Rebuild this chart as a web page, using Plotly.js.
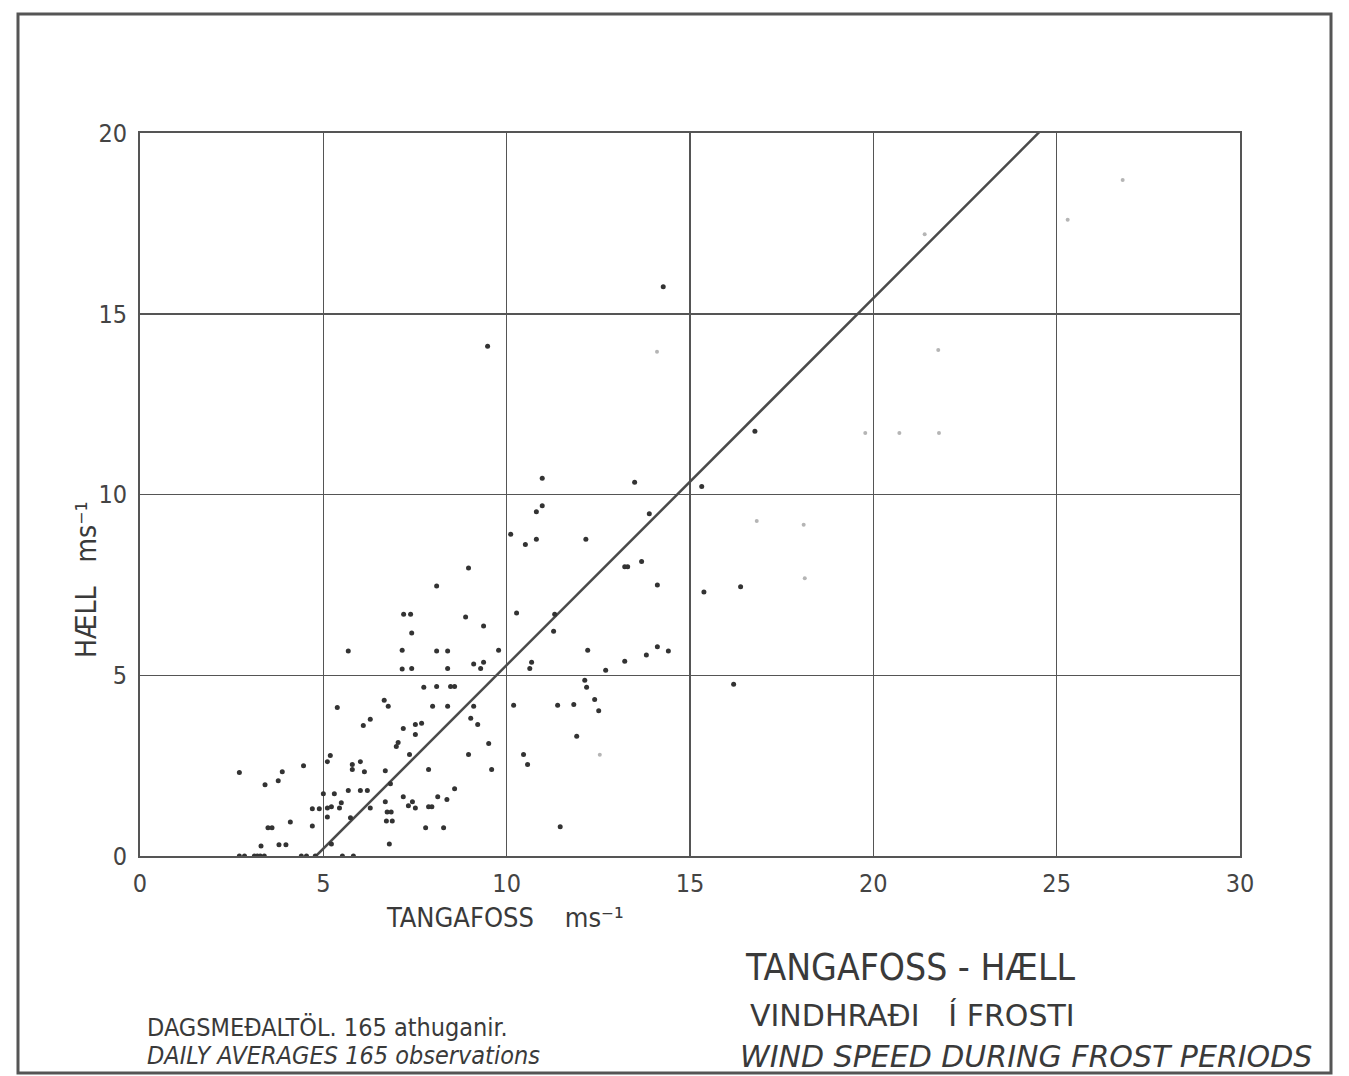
<!DOCTYPE html>
<html>
<head>
<meta charset="utf-8">
<script src="https://cdn.plot.ly/plotly-3.0.1.min.js"></script>
<style>html,body{margin:0;padding:0;background:#fff;}#chart{width:1349px;height:1076px;}</style>
</head>
<body>
<div id="chart"></div>
<script>
// Tangafoss (x) vs Hæll (y) daily average wind speed, m/s
const darkX = [
 5.68,7.15,7.15,5.38,6.66,6.77,6.28,6.09,7.18,7.51,7.51,7.04,6.99,5.19,5.11,5.79,5.79,6.01,6.12,6.69,
 4.46,2.71,3.88,3.77,3.41,5.30,5.68,6.01,6.20,6.83,5.00,5.49,5.44,4.70,4.89,5.11,5.22,5.11,6.28,6.69,
 6.74,6.85,6.72,6.88,7.18,7.32,7.43,5.74,4.70,4.10,3.49,3.60,3.30,3.79,3.98,5.22,6.80,
 2.71,2.85,3.12,3.20,3.28,3.39,4.40,4.54,4.78,5.52,5.82,
 8.96,8.09,7.19,7.38,8.88,7.41,9.37,10.27,11.31,11.28,12.21,8.09,8.39,9.78,7.41,8.39,9.10,9.29,9.37,10.63,
 10.68,12.13,12.18,12.40,7.74,8.09,8.47,8.58,7.98,8.39,9.10,10.19,11.39,11.83,7.68,9.02,9.21,9.51,11.91,7.35,
 8.96,10.46,10.57,7.87,9.59,8.58,7.51,7.87,7.96,8.12,8.37,7.79,8.28,11.46,
 10.97,13.49,15.32,10.81,10.97,13.89,10.11,10.51,10.81,12.16,13.22,13.30,13.68,14.11,15.38,
 12.70,13.22,13.81,14.11,14.41,12.51,
 14.27,9.48,16.77,16.38,16.19
];
const darkY = [
 5.67,5.69,5.17,4.11,4.31,4.14,3.78,3.61,3.53,3.64,3.36,3.14,3.03,2.78,2.61,2.53,2.39,2.61,2.33,2.36,
 2.50,2.31,2.33,2.08,1.97,1.72,1.81,1.81,1.81,2.00,1.72,1.47,1.33,1.31,1.31,1.33,1.36,1.08,1.33,1.50,
 1.22,1.22,0.97,0.97,1.64,1.39,1.50,1.06,0.83,0.94,0.78,0.78,0.28,0.31,0.31,0.33,0.33,
 0,0,0,0,0,0,0,0,0,0,0,
 7.97,7.47,6.69,6.69,6.61,6.17,6.36,6.72,6.69,6.22,5.69,5.67,5.67,5.69,5.19,5.19,5.31,5.19,5.36,5.19,
 5.36,4.86,4.67,4.33,4.67,4.69,4.69,4.69,4.14,4.14,4.14,4.17,4.17,4.19,3.67,3.81,3.64,3.11,3.31,2.81,
 2.81,2.81,2.53,2.39,2.39,1.86,1.33,1.36,1.36,1.64,1.56,0.78,0.78,0.81,
 10.45,10.34,10.22,9.52,9.69,9.47,8.90,8.62,8.76,8.76,8.00,8.00,8.15,7.50,7.30,
 5.14,5.39,5.56,5.79,5.67,4.02,
 15.75,14.10,11.75,7.45,4.75
];
const faintX = [14.10,21.77,19.78,20.71,21.79,16.82,18.10,12.54,18.13,21.40,25.30,26.80];
const faintY = [13.95,14.00,11.70,11.70,11.70,9.27,9.16,2.80,7.68,17.20,17.60,18.70];
const lineX = [4.8, 24.6];
const lineY = [0, 20.1];
const xTicks = [0,5,10,15,20,25,30];
const yTicks = [0,5,10,15,20];

const ink = '#3a3a3a';
const fnt = 'DejaVu Sans Condensed, Liberation Sans Narrow, sans-serif';
const fntW = 'DejaVu Sans, sans-serif';

const traces = [
 {x: lineX, y: lineY, mode: 'lines', line: {color: '#4a4a4a', width: 2.5}, hoverinfo: 'skip'},
 {x: darkX, y: darkY, mode: 'markers', marker: {color: '#333', size: 5}},
 {x: faintX, y: faintY, mode: 'markers', marker: {color: '#b5b5b5', size: 4}}
];

const P = (px) => (px - 140) / 1100;
const Q = (py) => (856 - py) / 723;

const layout = {
 width: 1349, height: 1076,
 margin: {l: 140, r: 109, t: 133, b: 220},
 paper_bgcolor: '#fff', plot_bgcolor: '#fff',
 showlegend: false,
 font: {family: fnt, color: ink},
 xaxis: {range: [0, 30], tickvals: xTicks, ticktext: xTicks.map(String), showgrid: true,
   gridcolor: '#555', gridwidth: 1.5, showline: true, linecolor: '#555', linewidth: 2, mirror: true,
   zeroline: false, ticks: '', ticklabelstandoff: 4, tickfont: {family: fnt, size: 25, color: '#444'}},
 yaxis: {range: [0, 20], tickvals: yTicks, ticktext: yTicks.map(String), showgrid: true,
   gridcolor: '#555', gridwidth: 1.5, showline: true, linecolor: '#555', linewidth: 2, mirror: true,
   zeroline: false, ticks: '', ticklabelstandoff: 6, tickfont: {family: fnt, size: 25, color: '#444'}},
 shapes: [
  {type: 'rect', xref: 'paper', yref: 'paper', x0: P(18), x1: P(1331), y0: Q(1073), y1: Q(14),
   line: {color: '#555', width: 3}}
 ],
 annotations: [
  {xref: 'paper', yref: 'paper', x: P(86), y: Q(580), text: 'HÆLL   ms⁻¹', textangle: -90,
   showarrow: false, font: {family: fnt, size: 28, color: ink}, xanchor: 'center', yanchor: 'middle'},
  {xref: 'paper', yref: 'paper', x: P(505), y: Q(918), text: 'TANGAFOSS    ms⁻¹',
   showarrow: false, font: {family: fnt, size: 27, color: ink}, xanchor: 'center', yanchor: 'middle'},
  {xref: 'paper', yref: 'paper', x: P(145), y: Q(1027), text: 'DAGSMEÐALTÖL. 165 athuganir.',
   showarrow: false, font: {family: fnt, size: 25, color: ink}, xanchor: 'left', yanchor: 'middle'},
  {xref: 'paper', yref: 'paper', x: P(145), y: Q(1055), text: 'DAILY AVERAGES 165 observations',
   showarrow: false, font: {family: fnt, size: 25, color: ink, style: 'italic'}, xanchor: 'left', yanchor: 'middle'},
  {xref: 'paper', yref: 'paper', x: P(743), y: Q(968), text: 'TANGAFOSS - HÆLL',
   showarrow: false, font: {family: fnt, size: 37, color: ink}, xanchor: 'left', yanchor: 'middle'},
  {xref: 'paper', yref: 'paper', x: P(748), y: Q(1015), text: 'VINDHRAÐI   Í FROSTI',
   showarrow: false, font: {family: fntW, size: 30, color: ink}, xanchor: 'left', yanchor: 'middle'},
  {xref: 'paper', yref: 'paper', x: P(738), y: Q(1056), text: 'WIND SPEED DURING FROST PERIODS',
   showarrow: false, font: {family: fntW, size: 30, color: ink, style: 'italic'}, xanchor: 'left', yanchor: 'middle'}
 ]
};

Plotly.newPlot('chart', traces, layout, {staticPlot: true, displayModeBar: false});
</script>
</body>
</html>
